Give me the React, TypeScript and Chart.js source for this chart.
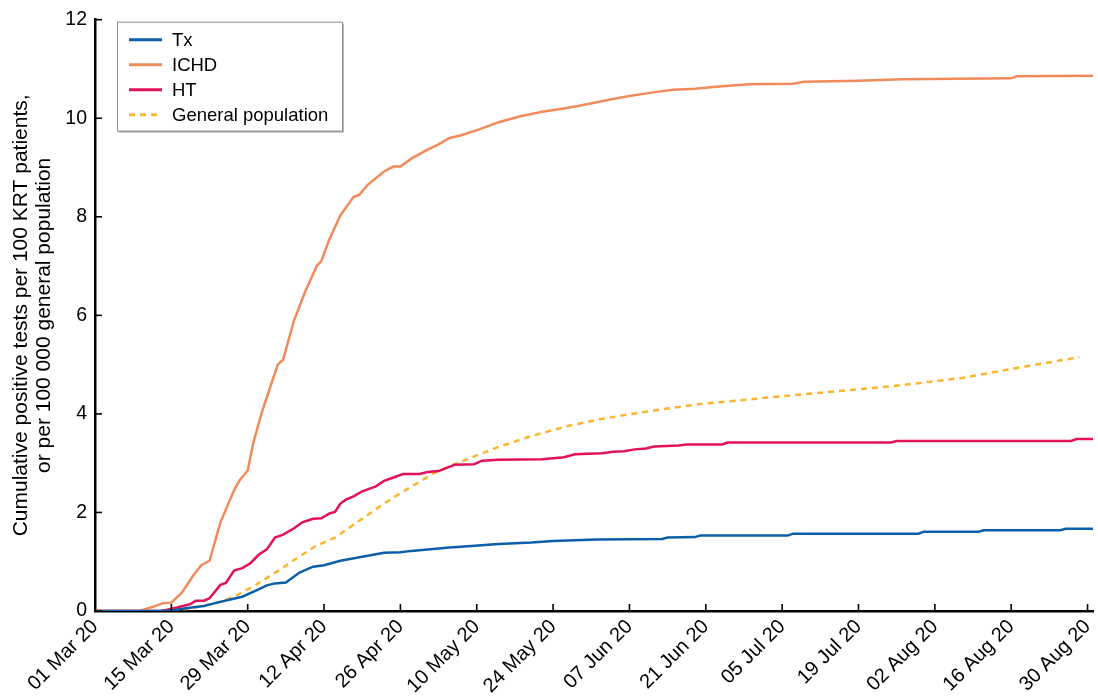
import React, { useEffect, useRef } from "react";
import { Chart, registerables } from "chart.js";

Chart.register(...registerables);

// x positions are days since 01 Mar 2020
const tickDays = [0, 14, 28, 42, 56, 70, 84, 98, 112, 126, 140, 154, 168, 182];
const tickLabels = [
  "01 Mar 20", "15 Mar 20", "29 Mar 20", "12 Apr 20", "26 Apr 20", "10 May 20", "24 May 20",
  "07 Jun 20", "21 Jun 20", "05 Jul 20", "19 Jul 20", "02 Aug 20", "16 Aug 20", "30 Aug 20",
];
const yTicks = [0, 2, 4, 6, 8, 10, 12];

const seriesNames = ["Tx", "ICHD", "HT", "General population"];

const txDays = [0, 12, 14, 17, 20, 22, 25, 27, 30, 31.5, 33, 35, 37.5, 40, 42, 45, 48, 50, 53, 56, 58, 62, 65, 69, 74, 80, 84, 92, 104, 105, 110, 111, 127, 128, 151, 152, 162, 163, 177, 178, 183];
const txValues = [0, 0, 0.01, 0.06, 0.1, 0.16, 0.24, 0.29, 0.44, 0.52, 0.56, 0.58, 0.78, 0.9, 0.93, 1.02, 1.08, 1.12, 1.18, 1.19, 1.22, 1.26, 1.29, 1.32, 1.36, 1.39, 1.42, 1.45, 1.46, 1.49, 1.5, 1.53, 1.53, 1.57, 1.57, 1.61, 1.61, 1.64, 1.64, 1.67, 1.67];

const ichdDays = [0, 8, 9, 11, 12.5, 14, 16, 18, 19.5, 21, 23, 25.5, 26.5, 28, 29, 30.5, 32, 33.5, 34.5, 36.5, 38.5, 40.7, 41.5, 43, 45, 47.4, 48.5, 50, 53, 54.7, 56, 58, 60.9, 63, 65, 67, 70.6, 74, 78, 82, 86, 90, 94, 98, 102, 106, 110, 115, 120, 128, 130, 140, 148, 168, 169, 183];
const ichdValues = [0, 0, 0.03, 0.1, 0.16, 0.17, 0.38, 0.72, 0.93, 1.02, 1.8, 2.45, 2.65, 2.85, 3.4, 4.0, 4.5, 5.0, 5.1, 5.9, 6.47, 7.01, 7.1, 7.55, 8.03, 8.4, 8.45, 8.65, 8.92, 9.02, 9.02, 9.18, 9.36, 9.47, 9.6, 9.65, 9.78, 9.92, 10.04, 10.13, 10.2, 10.28, 10.37, 10.45, 10.52, 10.58, 10.6, 10.65, 10.69, 10.7, 10.74, 10.76, 10.79, 10.81, 10.85, 10.86];

const htDays = [0, 12, 13, 15, 17.5, 18.5, 20, 21, 23, 24, 25.5, 27, 28.5, 30, 31.5, 33, 34.5, 36.5, 38, 40, 41.5, 43, 44, 45, 46, 47.5, 49, 51.5, 53, 55, 56.5, 59.5, 61, 63, 66, 69.5, 71, 74, 82, 86, 88, 93, 95, 97, 99, 101, 102.5, 107, 108.5, 115, 116, 146, 147, 179, 180, 183];
const htValues = [0, 0, 0.02, 0.07, 0.14, 0.21, 0.21, 0.26, 0.53, 0.57, 0.82, 0.87, 0.97, 1.14, 1.25, 1.49, 1.55, 1.68, 1.8, 1.87, 1.88, 1.98, 2.01, 2.18, 2.26, 2.33, 2.43, 2.53, 2.64, 2.72, 2.78, 2.78, 2.82, 2.84, 2.97, 2.98, 3.05, 3.07, 3.08, 3.12, 3.18, 3.2, 3.23, 3.24, 3.28, 3.3, 3.34, 3.36, 3.38, 3.38, 3.42, 3.42, 3.45, 3.45, 3.49, 3.49];

const gpDays = [0, 13, 15, 17.5, 20, 23.5, 26, 29.5, 33.5, 37, 40.5, 44, 47, 50, 53, 56, 59, 62, 65, 68, 74, 80, 86.5, 92.5, 99, 105, 111, 128, 146, 159, 171, 180.5];
const gpValues = [0, 0, 0.02, 0.05, 0.11, 0.2, 0.32, 0.53, 0.81, 1.07, 1.32, 1.49, 1.72, 1.95, 2.18, 2.39, 2.59, 2.79, 2.94, 3.07, 3.33, 3.55, 3.75, 3.89, 4.01, 4.11, 4.2, 4.38, 4.56, 4.73, 4.97, 5.15];

const colors = ["#0b5fa9", "#f28b5c", "#e2115b", "#fbb62d"];

const FONT = "'Liberation Sans', Arial, Helvetica, sans-serif";

const toPoints = (days: number[], vals: number[]) => days.map((d, i) => ({ x: d, y: vals[i] }));

const decorPlugin = {
  id: "decor",
  afterDraw(chart: any) {
    const { ctx, chartArea, scales } = chart;
    ctx.save();
    ctx.strokeStyle = "#000";
    ctx.lineWidth = 1.6;
    yTicks.forEach((v) => {
      const y = scales.y.getPixelForValue(v);
      ctx.beginPath();
      ctx.moveTo(chartArea.left, y);
      ctx.lineTo(chartArea.left + 7, y);
      ctx.stroke();
    });
    tickDays.forEach((v) => {
      const x = scales.x.getPixelForValue(v);
      ctx.beginPath();
      ctx.moveTo(x, chartArea.bottom);
      ctx.lineTo(x, chartArea.bottom - 7);
      ctx.stroke();
    });

    // legend box
    const bx = chartArea.left + 22;
    const by = chartArea.top + 2;
    const bw = 225;
    const bh = 109;
    ctx.fillStyle = "#b8b8b8";
    ctx.fillRect(bx + 2, by + 2, bw, bh);
    ctx.fillStyle = "#fff";
    ctx.fillRect(bx, by, bw, bh);
    ctx.strokeStyle = "#8c8c8c";
    ctx.lineWidth = 1;
    ctx.strokeRect(bx + 0.5, by + 0.5, bw, bh);

    ctx.font = `18.5px ${FONT}`;
    ctx.textBaseline = "middle";
    ctx.textAlign = "left";
    chart.data.datasets.forEach((ds: any, i: number) => {
      const cy = by + 18 + i * 25;
      ctx.strokeStyle = ds.borderColor;
      ctx.lineWidth = 3;
      ctx.setLineDash(ds.borderDash || []);
      ctx.beginPath();
      ctx.moveTo(bx + 12, cy);
      ctx.lineTo(bx + 45, cy);
      ctx.stroke();
      ctx.setLineDash([]);
      ctx.fillStyle = "#000";
      ctx.fillText(ds.label, bx + 55, cy + 1);
    });
    ctx.restore();
  },
};

export default function App() {
  const ref = useRef<HTMLCanvasElement | null>(null);

  useEffect(() => {
    document.body.style.margin = "0";
    if (!ref.current) return;
    Chart.defaults.font.family = FONT;
    const chart = new Chart(ref.current, {
      type: "line",
      data: {
        datasets: [
          { label: seriesNames[0], data: toPoints(txDays, txValues), borderColor: colors[0], borderWidth: 2.5 },
          { label: seriesNames[1], data: toPoints(ichdDays, ichdValues), borderColor: colors[1], borderWidth: 2.5 },
          { label: seriesNames[2], data: toPoints(htDays, htValues), borderColor: colors[2], borderWidth: 2.5 },
          { label: seriesNames[3], data: toPoints(gpDays, gpValues), borderColor: colors[3], borderWidth: 2.5, borderDash: [6, 5] },
        ] as any,
      },
      options: {
        animation: false,
        responsive: true,
        maintainAspectRatio: false,
        elements: { point: { radius: 0 }, line: { tension: 0, fill: false } },
        layout: { padding: { top: 19, right: 5, left: 0, bottom: 0 } },
        plugins: { legend: { display: false }, tooltip: { enabled: false } },
        scales: {
          x: {
            type: "linear",
            min: 0,
            max: 183,
            afterBuildTicks: (scale: any) => {
              scale.ticks = tickDays.map((v) => ({ value: v }));
            },
            afterFit: (scale: any) => {
              scale.height = 86;
              scale.paddingRight = 0;
              scale.paddingLeft = 0;
            },
            ticks: {
              autoSkip: false,
              minRotation: 45,
              maxRotation: 45,
              padding: 4,
              color: "#000",
              font: { size: 20 },
              callback: (_v: any, i: number) => tickLabels[i],
            },
            grid: { display: false, drawTicks: false },
            border: { display: true, color: "#000", width: 2.5 },
          },
          y: {
            min: 0,
            max: 12,
            afterBuildTicks: (scale: any) => {
              scale.ticks = yTicks.map((v) => ({ value: v }));
            },
            afterFit: (scale: any) => {
              scale.width = 95;
            },
            ticks: { color: "#000", font: { size: 19.5 }, padding: 8 },
            grid: { display: false, drawTicks: false },
            border: { display: true, color: "#000", width: 2.5 },
            title: {
              display: true,
              text: ["Cumulative positive tests per 100 KRT patients,", "or per 100 000 general population"],
              color: "#000",
              font: { size: 21, lineHeight: 1.1 },
              padding: { top: 10, bottom: 0 },
            },
          },
        },
      },
      plugins: [decorPlugin],
    } as any);
    return () => chart.destroy();
  }, []);

  return (
    <div style={{ width: 1098, height: 697, position: "relative" }}>
      <canvas ref={ref} style={{ display: "block" }} />
    </div>
  );
}
